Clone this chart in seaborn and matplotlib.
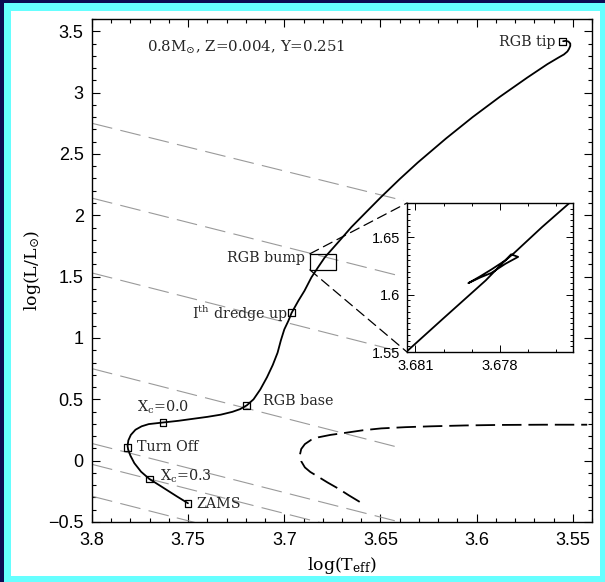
import numpy as np
import pandas as pd
import matplotlib
matplotlib.use("Agg")
import matplotlib.pyplot as plt
import seaborn as sns
from matplotlib.patches import Rectangle, ConnectionPatch
from matplotlib.ticker import MultipleLocator, FixedLocator, FuncFormatter

# ---------------- data ----------------
track_logT = [3.7501, 3.7560, 3.7640, 3.7701, 3.7745, 3.7780, 3.7800, 3.7812, 3.7815,
              3.7811, 3.7798, 3.7774, 3.7742, 3.7705, 3.7631, 3.7550, 3.7480, 3.7400,
              3.7330, 3.7270, 3.7230, 3.7195, 3.7160, 3.7125, 3.7090, 3.7060, 3.7035,
              3.7018, 3.7000, 3.6979, 3.6962, 3.6927, 3.6895, 3.6859, 3.6825, 3.6789,
              3.6720, 3.6651, 3.6575, 3.6496, 3.6400, 3.6306, 3.6160, 3.6021, 3.5880,
              3.5736, 3.5632, 3.5575, 3.5546, 3.5528, 3.5520, 3.5513, 3.5513, 3.5522,
              3.5536, 3.5550]
track_logL = [-0.347, -0.290, -0.210, -0.150, -0.090, -0.020, 0.040, 0.090, 0.120,
              0.165, 0.210, 0.252, 0.280, 0.298, 0.311, 0.325, 0.340, 0.357,
              0.375, 0.398, 0.420, 0.451, 0.500, 0.580, 0.680, 0.780, 0.880,
              0.980, 1.070, 1.139, 1.205, 1.303, 1.385, 1.494, 1.575, 1.658,
              1.780, 1.904, 2.025, 2.150, 2.295, 2.430, 2.625, 2.800, 2.965,
              3.123, 3.232, 3.285, 3.311, 3.335, 3.355, 3.380, 3.400, 3.416,
              3.422, 3.419]

dash_logT = [3.6608, 3.6665, 3.6720, 3.6775, 3.6824, 3.6865, 3.6893, 3.6912, 3.6919,
             3.6912, 3.6893, 3.6860, 3.6824, 3.6760, 3.6686, 3.6590, 3.6496, 3.6370,
             3.6237, 3.6060, 3.5891, 3.5650, 3.5425]
dash_logL = [-0.336, -0.282, -0.227, -0.178, -0.131, -0.092, -0.055, -0.005, 0.047,
             0.095, 0.135, 0.170, 0.190, 0.210, 0.226, 0.248, 0.263, 0.273,
             0.280, 0.287, 0.291, 0.293, 0.293]

inset_logT = [3.6816, 3.6800, 3.6785, 3.6776, 3.67735, 3.6778, 3.6783, 3.6787, 3.67912,
              3.6787, 3.6783, 3.6778, 3.6775, 3.6765, 3.6752]
inset_logL = [1.5440, 1.5795, 1.6125, 1.6352, 1.6330, 1.6270, 1.6190, 1.6150, 1.6101,
              1.6160, 1.6220, 1.6300, 1.6362, 1.6590, 1.6870]

point_names = ["ZAMS", "Xc=0.3", "Turn Off", "Xc=0.0", "RGB base", "dredge up", "RGB tip"]
point_logT = [3.7501, 3.7701, 3.7815, 3.7631, 3.7195, 3.6962, 3.5554]
point_logL = [-0.347, -0.150, 0.109, 0.311, 0.451, 1.205, 3.416]

label_texts = ["ZAMS", r"X$_{\rm c}$=0.3", "Turn Off", r"X$_{\rm c}$=0.0", "RGB base",
               r"I$^{\rm th}$ dredge up", "RGB tip", "RGB bump"]
label_logT = [3.7456, 3.7644, 3.7767, 3.7767, 3.7109, 3.6982, 3.5591, 3.6894]
label_logL = [-0.35, -0.131, 0.109, 0.434, 0.484, 1.20, 3.416, 1.655]
label_ha = ["left", "left", "left", "left", "left", "right", "right", "right"]

# constant-radius reference lines (start / end points)
rad_x0 = [3.80, 3.80, 3.80, 3.80, 3.80, 3.80, 3.80]
rad_y0 = [2.75, 2.14, 1.53, 0.75, 0.14, -0.03, -0.29]
rad_x1 = [3.638, 3.641, 3.640, 3.641, 3.640, 3.640, 3.640]
rad_y1 = [2.12, 1.51, 0.89, 0.11, -0.50, -0.67, -0.93]

bump_box = [3.6729, 1.555, 0.0138, 0.131]   # x0, y0, width, height

xticks_main = [3.8, 3.75, 3.7, 3.65, 3.6, 3.55]
yticks_main = [-0.5, 0, 0.5, 1, 1.5, 2, 2.5, 3, 3.5]
xticks_inset = [3.681, 3.678]
yticks_inset = [1.55, 1.6, 1.65]

# ---------------- style ----------------
sns.set_theme(style="white")
plt.rcParams["font.family"] = ["DejaVu Serif"]
plt.rcParams["mathtext.fontset"] = "dejavuserif"
plt.rcParams["lines.scale_dashes"] = False

fig = plt.figure(figsize=(6.05, 5.82), dpi=100)
fig.patch.set_facecolor("#0c0a52")
fig.patches.append(Rectangle((4 / 605, 0), 1, 579 / 582, transform=fig.transFigure,
                             facecolor="#66ffff", edgecolor="none", zorder=-5))
fig.patches.append(Rectangle((11 / 605, 1 - 576 / 582), (600 - 11) / 605, (576 - 11) / 582,
                             transform=fig.transFigure, facecolor="white",
                             edgecolor="none", zorder=-4))

ax = fig.add_axes([92 / 605, 1 - 522 / 582, 500 / 605, 503 / 582])
ax.set_facecolor("white")

# radius lines
for x0, y0, x1, y1 in zip(rad_x0, rad_y0, rad_x1, rad_y1):
    ax.plot([x0, x1], [y0, y1], color="#9a9a9a", lw=0.8, linestyle=(0, (15, 6)), zorder=1)

df_track = pd.DataFrame({"logT": track_logT, "logL": track_logL})
sns.lineplot(data=df_track, x="logT", y="logL", sort=False, estimator=None,
             color="black", lw=1.3, ax=ax, zorder=3)

df_dash = pd.DataFrame({"logT": dash_logT, "logL": dash_logL})
sns.lineplot(data=df_dash, x="logT", y="logL", sort=False, estimator=None,
             color="black", lw=1.3, linestyle=(0, (14, 5)), ax=ax, zorder=3)

df_pts = pd.DataFrame({"logT": point_logT, "logL": point_logL, "name": point_names})
sns.scatterplot(data=df_pts, x="logT", y="logL", marker="s", s=24,
                facecolor="none", edgecolor="black", linewidth=0.9, ax=ax, zorder=4)

for t, x, y, ha in zip(label_texts, label_logT, label_logL, label_ha):
    ax.text(x, y, t, ha=ha, va="center", fontsize=10.3, zorder=5)

ax.text(3.7712, 3.37, r"0.8M$_{\odot}$, Z=0.004, Y=0.251", ha="left", va="center",
        fontsize=10.8)

ax.add_patch(Rectangle((bump_box[0], bump_box[1]), bump_box[2], bump_box[3],
                       facecolor="none", edgecolor="black", lw=0.9, zorder=4))

ax.set_xlim(3.8, 3.54)
ax.set_ylim(-0.5, 3.6)
ax.xaxis.set_major_locator(FixedLocator(xticks_main))
ax.yaxis.set_major_locator(FixedLocator(yticks_main))
ax.xaxis.set_minor_locator(MultipleLocator(0.01))
ax.yaxis.set_minor_locator(MultipleLocator(0.1))
fmt = FuncFormatter(lambda v, p: ("%g" % v).replace("-", "\u2212"))
ax.xaxis.set_major_formatter(fmt)
ax.yaxis.set_major_formatter(fmt)
ax.tick_params(which="both", direction="in", top=True, right=True, bottom=True, left=True,
               color="black", width=0.8)
ax.tick_params(which="major", length=6, labelsize=13, labelfontfamily="Liberation Sans",
               labelcolor="black")
ax.tick_params(axis="x", which="major", pad=7)
ax.tick_params(axis="y", which="major", pad=6)
ax.tick_params(which="minor", length=3)
for s in ax.spines.values():
    s.set_color("black")
    s.set_linewidth(1.0)
    s.set_visible(True)
ax.set_xlabel(r"log(T$_{\rm eff}$)", fontsize=12.5, color="black")
ax.set_ylabel(r"log(L/L$_{\odot}$)", fontsize=12.5, color="black")
ax.xaxis.set_label_coords(0.5, -0.065)
ax.yaxis.set_label_coords(-0.098, 0.5)

# ---------------- inset ----------------
axi = fig.add_axes([407 / 605, 1 - 352 / 582, 166 / 605, 149 / 582])
axi.set_facecolor("white")
df_in = pd.DataFrame({"logT": inset_logT, "logL": inset_logL})
sns.lineplot(data=df_in, x="logT", y="logL", sort=False, estimator=None,
             color="black", lw=1.3, ax=axi)
axi.set_xlim(3.6813, 3.6754)
axi.set_ylim(1.55, 1.68)
axi.xaxis.set_major_locator(FixedLocator(xticks_inset))
axi.yaxis.set_major_locator(FixedLocator(yticks_inset))
axi.xaxis.set_minor_locator(MultipleLocator(0.001))
axi.yaxis.set_minor_locator(MultipleLocator(0.005))
axi.xaxis.set_major_formatter(fmt)
axi.yaxis.set_major_formatter(fmt)
axi.tick_params(which="both", direction="in", top=True, right=True, bottom=True, left=True,
                color="black", width=0.7)
axi.tick_params(which="major", length=5, labelsize=10.5, labelfontfamily="Liberation Sans",
                labelcolor="black", pad=5)
axi.tick_params(which="minor", length=2.5)
for s in axi.spines.values():
    s.set_color("black")
    s.set_linewidth(1.0)
    s.set_visible(True)
axi.set_xlabel("")
axi.set_ylabel("")

# connector lines from the bump box to the inset
for yb, ya in [(bump_box[1] + bump_box[3], 1.0), (bump_box[1], 0.0)]:
    con = ConnectionPatch(xyA=(bump_box[0] + bump_box[2], yb), coordsA=ax.transData,
                          xyB=(0.0, ya), coordsB=axi.transAxes,
                          color="black", lw=0.9, linestyle=(0, (7, 4)))
    fig.add_artist(con)

fig.savefig("out.png", dpi=100, facecolor=fig.get_facecolor())
